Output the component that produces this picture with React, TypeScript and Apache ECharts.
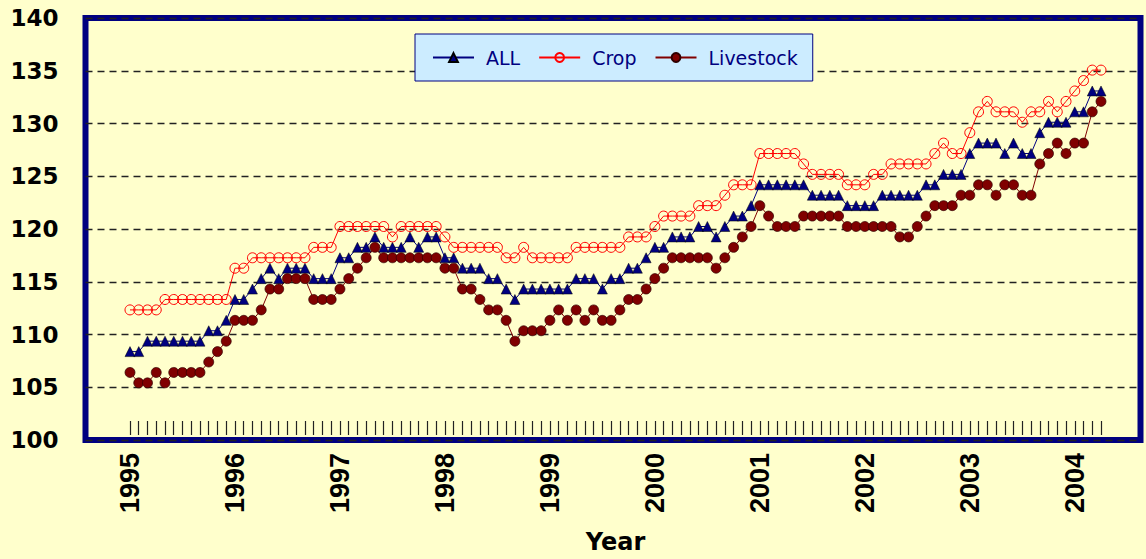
import React, { useEffect, useRef } from 'react';
import * as echarts from 'echarts';

const years = ['1995', '1996', '1997', '1998', '1999', '2000', '2001', '2002', '2003', '2004'];

const allIndex = [
  108, 108, 109, 109, 109, 109, 109, 109, 109, 110, 110, 111,
  113, 113, 114, 115, 116, 115, 116, 116, 116, 115, 115, 115,
  117, 117, 118, 118, 119, 118, 118, 118, 119, 118, 119, 119,
  117, 117, 116, 116, 116, 115, 115, 114, 113, 114, 114, 114,
  114, 114, 114, 115, 115, 115, 114, 115, 115, 116, 116, 117,
  118, 118, 119, 119, 119, 120, 120, 119, 120, 121, 121, 122,
  124, 124, 124, 124, 124, 124, 123, 123, 123, 123, 122, 122,
  122, 122, 123, 123, 123, 123, 123, 124, 124, 125, 125, 125,
  127, 128, 128, 128, 127, 128, 127, 127, 129, 130, 130, 130,
  131, 131, 133, 133,
];

const cropIndex = [
  112, 112, 112, 112, 113, 113, 113, 113, 113, 113, 113, 113,
  116, 116, 117, 117, 117, 117, 117, 117, 117, 118, 118, 118,
  120, 120, 120, 120, 120, 120, 119, 120, 120, 120, 120, 120,
  119, 118, 118, 118, 118, 118, 118, 117, 117, 118, 117, 117,
  117, 117, 117, 118, 118, 118, 118, 118, 118, 119, 119, 119,
  120, 121, 121, 121, 121, 122, 122, 122, 123, 124, 124, 124,
  127, 127, 127, 127, 127, 126, 125, 125, 125, 125, 124, 124,
  124, 125, 125, 126, 126, 126, 126, 126, 127, 128, 127, 127,
  129, 131, 132, 131, 131, 131, 130, 131, 131, 132, 131, 132,
  133, 134, 135, 135,
];

const livestockIndex = [
  106, 105, 105, 106, 105, 106, 106, 106, 106, 107, 108, 109,
  111, 111, 111, 112, 114, 114, 115, 115, 115, 113, 113, 113,
  114, 115, 116, 117, 118, 117, 117, 117, 117, 117, 117, 117,
  116, 116, 114, 114, 113, 112, 112, 111, 109, 110, 110, 110,
  111, 112, 111, 112, 111, 112, 111, 111, 112, 113, 113, 114,
  115, 116, 117, 117, 117, 117, 117, 116, 117, 118, 119, 120,
  122, 121, 120, 120, 120, 121, 121, 121, 121, 121, 120, 120,
  120, 120, 120, 120, 119, 119, 120, 121, 122, 122, 122, 123,
  123, 124, 124, 123, 124, 124, 123, 123, 126, 127, 128, 127,
  128, 128, 131, 132,
];

const yMin = 100;
const yMax = 140;
const yStep = 5;

const months = allIndex.map(
  (_, i) => `${years[Math.floor(i / 12)]}-${String((i % 12) + 1).padStart(2, '0')}`
);

export default function App() {
  const ref = useRef<HTMLDivElement>(null);

  useEffect(() => {
    if (!ref.current) return;
    const chart = echarts.init(ref.current, undefined, { renderer: 'svg' });
    const option: any = {
      animation: false,
      backgroundColor: '#ffffcc',
      grid: [
        {
          left: 85.5, right: 5.5, top: 18, bottom: 119,
          show: true, borderColor: '#000080', borderWidth: 6, backgroundColor: 'transparent',
        },
        { left: 130, right: 45, top: 18, bottom: 119 },
      ],
      xAxis: [
        { gridIndex: 0, type: 'value', min: 0, max: 1, show: false },
        {
          gridIndex: 1,
          type: 'category',
          data: months,
          boundaryGap: false,
          axisLine: { show: false },
          axisTick: {
            show: true, inside: true, length: 14, interval: 0,
            lineStyle: { color: '#222', width: 1.2 },
          },
          axisLabel: {
            interval: 11,
            rotate: 90,
            margin: 18,
            formatter: (v: string) => v.slice(0, 4),
            fontFamily: 'Liberation Sans Narrow, Liberation Sans, Arial, sans-serif',
            fontWeight: 'bold',
            fontSize: 27,
            color: '#000',
          },
          splitLine: { show: false },
          name: 'Year',
          nameLocation: 'middle',
          nameGap: 95,
          nameTextStyle: {
            fontFamily: 'DejaVu Sans, sans-serif',
            fontWeight: 'bold',
            fontSize: 24,
            color: '#000',
          },
        },
      ],
      yAxis: [
        {
          gridIndex: 0,
          type: 'value',
          min: yMin,
          max: yMax,
          interval: yStep,
          axisLine: { show: false },
          axisTick: { show: false },
          axisLabel: {
            margin: 27,
            fontFamily: 'DejaVu Sans, sans-serif',
            fontWeight: 'bold',
            fontSize: 23,
            color: '#000',
          },
          splitLine: { show: true, lineStyle: { type: [7, 5], color: '#222', width: 1.3 } },
        },
        { gridIndex: 1, type: 'value', min: yMin, max: yMax, show: false, splitLine: { show: false } },
      ],
      legend: {
        left: 415,
        top: 34,
        backgroundColor: '#ccecff',
        borderColor: '#000080',
        borderWidth: 1,
        padding: [14, 15, 14, 17],
        itemWidth: 41,
        itemHeight: 11,
        itemGap: 18,
        textStyle: {
          fontFamily: 'DejaVu Sans, sans-serif',
          fontSize: 19,
          color: '#000080',
          padding: [0, 0, 0, 7],
        },
        data: ['ALL', 'Crop', 'Livestock'],
      },
      series: [
        {
          name: 'ALL',
          type: 'line',
          xAxisIndex: 1,
          yAxisIndex: 1,
          data: allIndex,
          showAllSymbol: true,
          symbol: 'triangle',
          symbolSize: 10,
          lineStyle: { color: '#000080', width: 1 },
          itemStyle: { color: '#000080', borderColor: '#000', borderWidth: 0.5 },
        },
        {
          name: 'Crop',
          type: 'line',
          xAxisIndex: 1,
          yAxisIndex: 1,
          data: cropIndex,
          showAllSymbol: true,
          symbol: 'circle',
          symbolSize: 10,
          lineStyle: { color: '#ff0000', width: 1 },
          itemStyle: { color: 'rgba(0,0,0,0)', borderColor: '#ff0000', borderWidth: 1 },
        },
        {
          name: 'Livestock',
          type: 'line',
          xAxisIndex: 1,
          yAxisIndex: 1,
          data: livestockIndex,
          showAllSymbol: true,
          symbol: 'circle',
          symbolSize: 10,
          lineStyle: { color: '#800000', width: 1 },
          itemStyle: { color: '#800000', borderColor: '#300000', borderWidth: 0.7 },
        },
      ],
    };
    chart.setOption(option);
    return () => chart.dispose();
  }, []);

  return (
    <div
      ref={ref}
      style={{ position: 'fixed', left: 0, top: 0, width: 1146, height: 559 }}
    />
  );
}
